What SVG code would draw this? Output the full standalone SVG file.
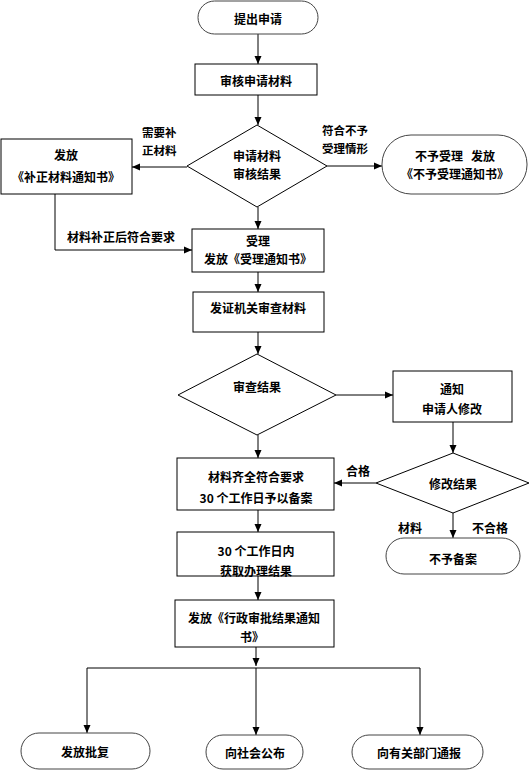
<svg xmlns="http://www.w3.org/2000/svg" width="531" height="770" viewBox="0 0 531 770">
<defs>
<marker id="ah" markerUnits="userSpaceOnUse" markerWidth="10" markerHeight="10" viewBox="0 0 10 10" refX="9" refY="5" orient="auto">
<path d="M1,1.5 L9,5 L1,8.5 Z" fill="#000"/>
</marker>
<style>
text{font-family:"Noto Sans CJK SC","Liberation Sans",sans-serif;font-size:12px;font-weight:bold;fill:#000;text-anchor:middle;dominant-baseline:central}
.box{fill:#fff;stroke:#000;stroke-width:1}
.term{fill:#fff;stroke:#444;stroke-width:1}
.c{fill:none;stroke:#000;stroke-width:1}
.ca{fill:none;stroke:#000;stroke-width:1;marker-end:url(#ah)}
.lbl{text-anchor:start}
.sm{font-size:11.5px}
</style>
</defs>
<rect width="531" height="770" fill="#fff"/>
<g id="connectors">
<line class="ca" x1="258" y1="34" x2="258" y2="64"/>
<line class="ca" x1="258" y1="95" x2="258" y2="125"/>
<line class="ca" x1="187" y1="167" x2="132" y2="167"/>
<line class="ca" x1="327" y1="166" x2="382" y2="166"/>
<line class="ca" x1="258" y1="207" x2="258" y2="229"/>
<polyline class="ca" points="55,194 55,250 192,250"/>
<line class="ca" x1="258" y1="272" x2="258" y2="292"/>
<line class="ca" x1="258" y1="332" x2="258" y2="354"/>
<line class="ca" x1="336" y1="395" x2="393" y2="395"/>
<line class="ca" x1="258" y1="435" x2="258" y2="458"/>
<line class="ca" x1="453" y1="422" x2="453" y2="453"/>
<line class="ca" x1="376" y1="483" x2="334" y2="483"/>
<line class="ca" x1="453" y1="513" x2="453" y2="538"/>
<line class="ca" x1="258" y1="510" x2="258" y2="532"/>
<line class="ca" x1="258" y1="576" x2="258" y2="600"/>
<line class="ca" x1="256" y1="647" x2="256" y2="666"/>
<line class="c" x1="87" y1="668" x2="420" y2="668"/>
<line class="ca" x1="87" y1="668" x2="87" y2="733"/>
<line class="ca" x1="256" y1="668" x2="256" y2="735"/>
<line class="ca" x1="420" y1="668" x2="420" y2="735"/>
<text class="lbl sm" x="142" y="132">需要补<tspan x="142" dy="17.5">正材料</tspan></text>
<text class="lbl sm" x="322" y="130">符合不予<tspan x="322" dy="17.5">受理情形</tspan></text>
<text class="lbl" x="67" y="236">材料补正后符合要求</text>
<text class="lbl" x="346" y="470">合格</text>
<text class="lbl" x="398" y="527">材料</text>
<text class="lbl" x="472" y="527">不合格</text>
</g>
<g id="start">
<rect class="term" x="198" y="1" width="120" height="33" rx="16.5"/>
<text x="258" y="18">提出申请</text>
</g>
<g id="review">
<rect class="box" x="195" y="64" width="122" height="31"/>
<text x="256" y="80">审核申请材料</text>
</g>
<g id="decision1">
<polygon class="box" points="257,125 327,166 257,207 187,166"/>
<text x="257" y="155">申请材料<tspan x="257" dy="18">审核结果</tspan></text>
</g>
<g id="supplement">
<rect class="box" x="1" y="139" width="131" height="55"/>
<text x="66" y="154">发放<tspan x="66" dy="22">《补正材料通知书》</tspan></text>
</g>
<g id="reject">
<rect class="term" x="382" y="135" width="145" height="59" rx="29"/>
<text x="455" y="155" style="white-space:pre">不予受理   发放<tspan x="455" dy="18">《不予受理通知书》</tspan></text>
</g>
<g id="accept">
<rect class="box" x="192" y="229" width="132" height="43"/>
<text x="258" y="240">受理<tspan x="258" dy="18">发放《受理通知书》</tspan></text>
</g>
<g id="examine">
<rect class="box" x="193" y="292" width="131" height="40"/>
<text x="258" y="307">发证机关审查材料</text>
</g>
<g id="decision2">
<polygon class="box" points="257,354 336,395 257,435 178,395"/>
<text x="257" y="386">审查结果</text>
</g>
<g id="notify">
<rect class="box" x="393" y="371" width="119" height="51"/>
<text x="452" y="388">通知<tspan x="452" dy="20">申请人修改</tspan></text>
</g>
<g id="decision3">
<polygon class="box" points="453,453 529,483 453,513 376,483"/>
<text x="453" y="483">修改结果</text>
</g>
<g id="record">
<rect class="box" x="177" y="458" width="157" height="52"/>
<text x="256" y="476">材料齐全符合要求<tspan x="256" dy="21">30 个工作日予以备案</tspan></text>
</g>
<g id="norecord">
<rect class="term" x="386" y="538" width="134" height="36" rx="18"/>
<text x="453" y="558">不予备案</text>
</g>
<g id="obtain">
<rect class="box" x="177" y="532" width="157" height="44"/>
<text x="256" y="550">30 个工作日内<tspan x="256" dy="20">获取办理结果</tspan></text>
</g>
<g id="issue">
<rect class="box" x="175" y="600" width="159" height="47"/>
<text x="254" y="617">发放《行政审批结果通知<tspan x="252" dy="19">书》</tspan></text>
</g>
<g id="approval">
<rect class="term" x="21" y="733" width="129" height="36" rx="18"/>
<text x="85" y="751">发放批复</text>
</g>
<g id="publish">
<rect class="term" x="206" y="735" width="97" height="34" rx="17"/>
<text x="255" y="752">向社会公布</text>
</g>
<g id="report">
<rect class="term" x="352" y="735" width="131" height="34" rx="17"/>
<text x="419" y="752">向有关部门通报</text>
</g>
</svg>
